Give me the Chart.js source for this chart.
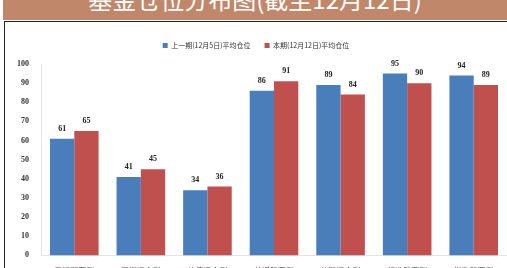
<!DOCTYPE html>
<html>
<head>
<meta charset="utf-8">
<script src="https://cdn.jsdelivr.net/npm/chart.js@4"></script>
<style>
  html, body { margin: 0; padding: 0; width: 507px; height: 268px; overflow: hidden; background: #fff; }
  .title-bar { position: absolute; left: 3px; top: 0; width: 504px; height: 20px; background: #c0876a; overflow: hidden; }
  .title-bar span { position: absolute; left: 0; width: 100%; top: -16px; text-align: center; color: #fff;
    font-family: "Noto Sans CJK SC", sans-serif; font-size: 24px; line-height: 30px; white-space: nowrap; }
  .box { position: absolute; left: 4px; top: 21px; width: 503px; height: 260px; border-left: 1px solid #222; border-top: 1px solid #222; background: #fff; }
  canvas { display: block; }
</style>
</head>
<body>
<div class="title-bar"><span>基金仓位分布图(截至12月12日)</span></div>
<div class="box"><canvas id="myChart" width="502" height="257"></canvas></div>
<script>
let categories = ['灵活配置型', '平衡混合型', '偏债混合型', '普通股票型', '偏股混合型', '标准股票型', '指数股票型']
let lastWeek = [61, 41, 34, 86, 89, 95, 94]
let thisWeek = [65, 45, 36, 91, 84, 90, 89]
let seriesNames = ['上一期(12月5日)平均仓位', '本期(12月12日)平均仓位']
let yTicks = [0, 10, 20, 30, 40, 50, 60, 70, 80, 90, 100]

let chart = document.getElementById('myChart')

// values above bars
let valueLabels = {
    id: 'valueLabels',
    afterDatasetsDraw: function(c) {
        let ctx = c.ctx
        ctx.save()
        ctx.font = 'bold 8px "Liberation Serif"'
        ctx.fillStyle = '#222'
        ctx.textAlign = 'center'
        ctx.textBaseline = 'bottom'
        c.data.datasets.forEach(function(ds, i) {
            c.getDatasetMeta(i).data.forEach(function(bar, j) {
                ctx.fillText(ds.data[j], bar.x, bar.y - 6)
            })
        })
        ctx.restore()
    }
}

// extra room under the legend
let legendGap = {
    id: 'legendGap',
    beforeInit: function(c) {
        let fit = c.legend.fit
        c.legend.fit = function() {
            fit.bind(c.legend)()
            this.height += 5
        }
    }
}

let shapeChart = new Chart(chart, {
    type: 'bar',
    data: {
        labels: categories,
        datasets: [{
                label: seriesNames[0],
                data: lastWeek,
                backgroundColor: '#4a7ebb'
            },
            {
                label: seriesNames[1],
                data: thisWeek,
                backgroundColor: '#c0504d'
            }
        ]
    },
    options: {
        responsive: false,
        animation: false,
        layout: { padding: { top: 6, right: 0, left: 0, bottom: 0 } },
        plugins: {
            legend: {
                position: 'top',
                labels: {
                    boxWidth: 5,
                    boxHeight: 5,
                    padding: 14,
                    color: '#333',
                    font: { size: 7, family: 'Noto Sans CJK SC' }
                }
            },
            tooltip: { enabled: false }
        },
        datasets: {
            bar: { categoryPercentage: 0.73, barPercentage: 1 }
        },
        scales: {
            y: {
                min: 0,
                max: 100,
                afterBuildTicks: function(axis) {
                    axis.ticks = yTicks.map(function(v) { return { value: v } })
                },
                afterFit: function(axis) { axis.width = 36 },
                grid: { display: false },
                border: { color: '#e4e4e4' },
                ticks: { color: '#333', padding: 4, font: { size: 8, family: 'Liberation Serif', weight: 'bold' } }
            },
            x: {
                grid: { display: false },
                border: { color: '#e4e4e4' },
                ticks: { color: '#444', maxRotation: 0, font: { size: 8, family: 'Noto Sans CJK SC' } }
            }
        }
    },
    plugins: [valueLabels, legendGap]
})
</script>
</body>
</html>
